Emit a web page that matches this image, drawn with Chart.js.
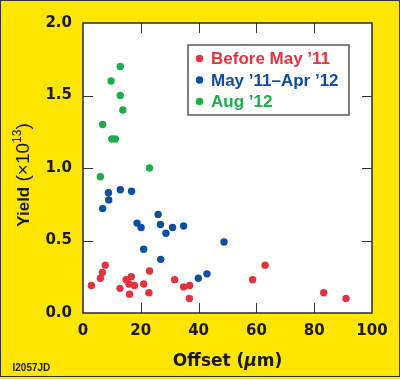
<!DOCTYPE html>
<html>
<head>
<meta charset="utf-8">
<script src="https://cdn.jsdelivr.net/npm/chart.js@4"></script>
<style>
  html, body { margin: 0; padding: 0; background: #ffe600; }
  #wrap { width: 400px; height: 379px; position: relative; }
</style>
</head>
<body>
<div id="wrap"><canvas id="c"></canvas></div>
<script>
// Series labels
const seriesLabels = ["Before May \u201911", "May \u201911\u2013Apr \u201912", "Aug \u201912"];

// Before May '11
const beforeX = [2.9, 6.0, 6.7, 7.7, 12.8, 14.9, 16.7, 15.9, 17.8, 16.1, 21.0, 23.0, 22.8, 31.7, 34.8, 36.9, 36.8, 58.7, 63.0, 83.3, 91.0];
const beforeY = [0.19, 0.24, 0.28, 0.33, 0.17, 0.23, 0.25, 0.20, 0.19, 0.13, 0.20, 0.29, 0.14, 0.23, 0.18, 0.19, 0.10, 0.23, 0.33, 0.14, 0.10];

// May '11 - Apr '12
const midX = [12.9, 16.8, 8.8, 8.9, 6.8, 26.0, 18.7, 20.1, 26.8, 31.0, 34.8, 28.7, 48.8, 21.0, 26.9, 39.9, 42.9];
const midY = [0.85, 0.84, 0.83, 0.78, 0.72, 0.68, 0.62, 0.59, 0.61, 0.59, 0.60, 0.55, 0.49, 0.44, 0.37, 0.24, 0.27];

// Aug '12
const augX = [12.9, 9.7, 12.9, 13.8, 6.8, 10.0, 11.2, 23.0, 6.0];
const augY = [1.70, 1.60, 1.50, 1.40, 1.30, 1.20, 1.20, 1.00, 0.94];

// Axis ticks
const xTicks = [0, 20, 40, 60, 80, 100];
const yTicks = [0.0, 0.5, 1.0, 1.5, 2.0];

const colors = ["#e4323f", "#0b4ea2", "#1bae4b"];

function pts(xs, ys) { return xs.map((x, i) => ({ x: x, y: ys[i] })); }

const seriesData = [pts(beforeX, beforeY), pts(midX, midY), pts(augX, augY)];

const INK = "#1a1a1a";

const decor = {
  id: "decor",
  beforeDraw(chart) {
    const ctx = chart.ctx, a = chart.chartArea;
    ctx.save();
    ctx.fillStyle = "#ffe600";
    ctx.fillRect(0, 0, chart.width, chart.height);
    ctx.fillStyle = "#ffffff";
    ctx.fillRect(a.left, a.top, a.right - a.left, a.bottom - a.top);
    ctx.restore();
  },
  afterDraw(chart) {
    const ctx = chart.ctx, a = chart.chartArea;
    const xs = chart.scales.x, ys = chart.scales.y;
    ctx.save();
    // tick marks inside on all four sides
    ctx.strokeStyle = "#333";
    ctx.lineWidth = 1;
    const L = 10;
    xTicks.forEach(v => {
      if (v === xTicks[0] || v === xTicks[xTicks.length - 1]) return;
      const px = Math.round(xs.getPixelForValue(v)) + 0.5;
      ctx.beginPath();
      ctx.moveTo(px, a.bottom); ctx.lineTo(px, a.bottom - L);
      ctx.moveTo(px, a.top); ctx.lineTo(px, a.top + L);
      ctx.stroke();
    });
    yTicks.forEach(v => {
      if (v === yTicks[0] || v === yTicks[yTicks.length - 1]) return;
      const py = Math.round(ys.getPixelForValue(v)) + 0.5;
      ctx.beginPath();
      ctx.moveTo(a.left, py); ctx.lineTo(a.left + L, py);
      ctx.moveTo(a.right, py); ctx.lineTo(a.right - L, py);
      ctx.stroke();
    });
    // plot frame
    ctx.lineWidth = 1.5;
    ctx.strokeStyle = "#2a2a2a";
    ctx.strokeRect(a.left, a.top, a.right - a.left, a.bottom - a.top);

    // legend box
    const bx = 188, by = 45, bw = 161, bh = 70;
    ctx.fillStyle = "#ffffff";
    ctx.fillRect(bx, by, bw, bh);
    ctx.lineWidth = 1.5;
    ctx.strokeStyle = "#555";
    ctx.strokeRect(bx, by, bw, bh);
    ctx.font = 'bold 17px "Liberation Sans"';
    ctx.textBaseline = "middle";
    ctx.textAlign = "left";
    const rows = [58.5, 80, 101.5];
    chart.data.datasets.forEach((ds, i) => {
      ctx.fillStyle = ds.backgroundColor;
      ctx.beginPath();
      ctx.arc(199.5, rows[i], 3.7, 0, Math.PI * 2);
      ctx.fill();
      ctx.fillText(ds.label, 211, rows[i] + 1);
    });

    // x title: Offset (μm)
    ctx.fillStyle = INK;
    ctx.textBaseline = "alphabetic";
    const p1 = "Offset (", p2 = "\u03bc", p3 = "m)";
    const f1 = 'bold 17px "DejaVu Sans"', f2 = 'bold italic 17px "DejaVu Sans"';
    ctx.font = f1; const w1 = ctx.measureText(p1).width, w3 = ctx.measureText(p3).width;
    ctx.font = f2; const w2 = ctx.measureText(p2).width;
    const cx = (a.left + a.right) / 2;
    let x0 = cx - (w1 + w2 + w3) / 2;
    const yb = 365.5;
    ctx.font = f1; ctx.fillText(p1, x0, yb); x0 += w1;
    ctx.font = f2; ctx.fillText(p2, x0, yb); x0 += w2;
    ctx.font = f1; ctx.fillText(p3, x0, yb);

    // y title: Yield (×10^13)
    ctx.save();
    ctx.translate(28.5, 175);
    ctx.rotate(-Math.PI / 2);
    const q1 = "Yield", q2 = " (\u00d710", q3 = "13", q4 = ")";
    const g1 = 'bold 17px "Liberation Sans"', g2 = '19px "Liberation Sans"', g3 = '12px "Liberation Sans"';
    ctx.font = g1; const v1 = ctx.measureText(q1).width;
    ctx.font = g2; const v2 = ctx.measureText(q2).width, v4 = ctx.measureText(q4).width;
    ctx.font = g3; const v3 = ctx.measureText(q3).width;
    let t = -(v1 + v2 + v3 + v4) / 2;
    ctx.font = g1; ctx.fillText(q1, t, 0); t += v1;
    ctx.font = g2; ctx.fillText(q2, t, 0); t += v2;
    ctx.font = g3; ctx.fillText(q3, t, -7.5); t += v3;
    ctx.font = g2; ctx.fillText(q4, t, 0);
    ctx.restore();

    // figure id
    ctx.font = 'bold 10px "Liberation Sans"';
    ctx.fillStyle = INK;
    ctx.fillText("I2057JD", 12.5, 371);

    // outer frame
    ctx.lineWidth = 1;
    ctx.strokeStyle = "#333";
    ctx.strokeRect(0.5, 0.5, chart.width - 1, chart.height - 3);
    ctx.restore();
  }
};

new Chart(document.getElementById("c"), {
  type: "scatter",
  data: {
    datasets: seriesLabels.map((lab, i) => ({
      label: lab,
      data: seriesData[i],
      backgroundColor: colors[i],
      borderColor: colors[i],
      borderWidth: 0,
      pointRadius: 3.7,
      pointHoverRadius: 3.7
    }))
  },
  options: {
    responsive: true,
    maintainAspectRatio: false,
    animation: false,
    events: [],
    layout: { padding: { top: 23, right: 28, left: 0, bottom: 0 } },
    plugins: { legend: { display: false }, tooltip: { enabled: false } },
    scales: {
      x: {
        type: "linear",
        min: 0, max: 100,
        afterBuildTicks: s => { s.ticks = xTicks.map(v => ({ value: v })); },
        ticks: { font: { family: "DejaVu Sans", size: 15, weight: "bold" }, color: INK, padding: 9, maxRotation: 0, autoSkip: false },
        grid: { display: false, drawTicks: false },
        border: { display: false },
        afterFit: s => { s.height = 66; }
      },
      y: {
        type: "linear",
        min: 0, max: 2,
        afterBuildTicks: s => { s.ticks = yTicks.map(v => ({ value: v })); },
        ticks: { font: { family: "DejaVu Sans", size: 15, weight: "bold" }, color: INK, padding: 11, autoSkip: false,
                 callback: v => Number(v).toFixed(1) },
        grid: { display: false, drawTicks: false },
        border: { display: false },
        afterFit: s => { s.width = 83; }
      }
    }
  },
  plugins: [decor]
});
</script>
</body>
</html>
